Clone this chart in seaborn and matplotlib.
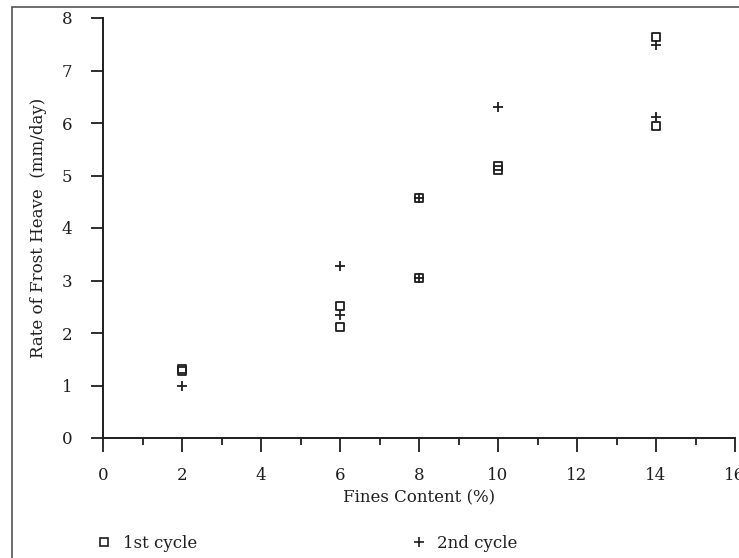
import matplotlib
matplotlib.use("Agg")
import matplotlib.pyplot as plt
import seaborn as sns
import pandas as pd
from matplotlib.lines import Line2D

# Data
fines_1st = [2, 2, 6, 6, 8, 8, 10, 10, 14, 14]
rate_1st = [1.32, 1.28, 2.51, 2.12, 4.58, 3.05, 5.18, 5.10, 7.63, 5.94]
fines_2nd = [2, 6, 6, 8, 8, 10, 14, 14]
rate_2nd = [1.00, 3.28, 2.34, 4.58, 3.05, 6.31, 7.49, 6.11]
series_names = ["1st cycle", "2nd cycle"]
x_ticks = [0, 2, 4, 6, 8, 10, 12, 14, 16]
y_ticks = [0, 1, 2, 3, 4, 5, 6, 7, 8]

sns.set_style("ticks")
plt.rcParams["font.family"] = ["DejaVu Serif"]
ink = "#1e1e1e"

fig = plt.figure(figsize=(7.39, 5.58), dpi=100)
ax = fig.add_axes([103 / 739, 1 - 438 / 558, 632 / 739, 420 / 558])

df1 = pd.DataFrame({"x": fines_1st, "y": rate_1st})
df2 = pd.DataFrame({"x": fines_2nd, "y": rate_2nd})
sns.scatterplot(data=df1, x="x", y="y", ax=ax, marker="s", s=34,
                facecolor="none", edgecolor=ink, linewidth=1.3, zorder=3)
sns.scatterplot(data=df2, x="x", y="y", ax=ax, marker="+", s=55,
                color=ink, linewidth=1.3, zorder=3)

ax.set_xlim(0, 16)
ax.set_ylim(0, 8)
ax.set_xticks(x_ticks)
ax.set_xticks(range(1, 16, 2), minor=True)
ax.set_yticks(y_ticks)
ax.set_xticklabels([str(t) for t in x_ticks], fontsize=12, color=ink)
ax.set_yticklabels([str(t) for t in y_ticks], fontsize=12, color=ink)
ax.tick_params(axis="x", which="major", length=10, width=1.3, pad=11, color=ink)
ax.tick_params(axis="x", which="minor", length=5, width=1.3, color=ink)
ax.tick_params(axis="y", which="major", length=9, width=1.3, pad=13, color=ink)
for side in ["top", "right"]:
    ax.spines[side].set_visible(False)
for side in ["left", "bottom"]:
    ax.spines[side].set_color(ink)
    ax.spines[side].set_linewidth(1.4)

ax.set_xlabel("Fines Content (%)", fontsize=12, color=ink, labelpad=4)
ax.set_ylabel("Rate of Frost Heave  (mm/day)", fontsize=12, color=ink, labelpad=11)

handles = [
    Line2D([], [], marker="s", linestyle="none", markersize=5.5,
           markerfacecolor="none", markeredgecolor=ink, markeredgewidth=1.2),
    Line2D([], [], marker="+", linestyle="none", markersize=7,
           color=ink, markeredgewidth=1.2),
]
fig.legend(handles, series_names, loc="center left", ncol=2,
           bbox_to_anchor=(81 / 739, 1 - 543 / 558), frameon=False,
           fontsize=12, handlelength=1.0, handletextpad=0.6,
           columnspacing=12.8, labelcolor=ink)

# page frame lines from the scan
fig.add_artist(Line2D([12 / 739, 12 / 739], [0, 1 - 7 / 558],
                      transform=fig.transFigure, color="#555555", lw=1.2))
fig.add_artist(Line2D([12 / 739, 1], [1 - 7 / 558, 1 - 7 / 558],
                      transform=fig.transFigure, color="#555555", lw=1.2))

fig.savefig("out.png", dpi=100)
